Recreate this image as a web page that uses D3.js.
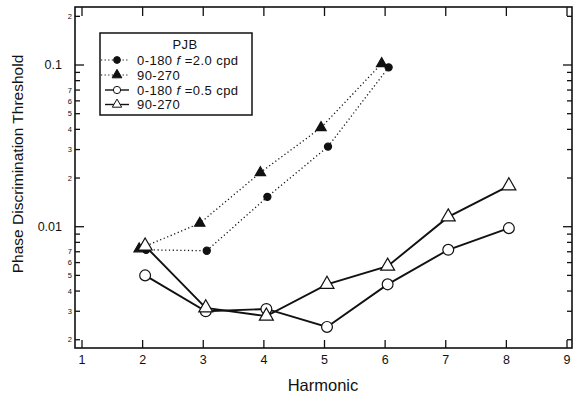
<!DOCTYPE html>
<html>
<head>
<meta charset="utf-8">
<script src="https://cdn.jsdelivr.net/npm/d3@7/dist/d3.min.js"></script>
<style>
  html, body { margin: 0; padding: 0; background: #fff; }
  svg { display: block; font-family: "Liberation Sans", Arial, Helvetica, sans-serif; }
</style>
</head>
<body>
<svg id="chart" width="574" height="398"></svg>
<script>
// Harmonic numbers for each condition
const harmonicsHigh = [2, 3, 4, 5, 6];
const harmonicsLow = [2, 3, 4, 5, 6, 7, 8];

// Phase discrimination thresholds, f = 2.0 cpd
const high0180 = [0.0072, 0.0071, 0.0153, 0.0313, 0.0967];
const high90270 = [0.0073, 0.0105, 0.0216, 0.0410, 0.1020];

// Phase discrimination thresholds, f = 0.5 cpd
const low0180 = [0.0050, 0.0030, 0.0031, 0.0024, 0.0044, 0.0072, 0.0098];
const low90270 = [0.0076, 0.00315, 0.0028, 0.0044, 0.0057, 0.0115, 0.0179];

// Axis ticks
const xTicks = [1, 2, 3, 4, 5, 6, 7, 8, 9];
const yMajorTicks = [0.01, 0.1];
const yMajorLabels = ["0.01", "0.1"];
const yMinorTicks = [0.002, 0.003, 0.004, 0.005, 0.006, 0.007, 0.008, 0.009,
                     0.02, 0.03, 0.04, 0.05, 0.06, 0.07, 0.08, 0.09, 0.2];
const yMinorLabelled = [2, 3, 4, 5, 6, 7];

// Legend text
const legendTitle = "PJB";
const legendRows = [
  { pre: "0-180 ", ital: "f", post: " =2.0 cpd" },
  { pre: "90-270", ital: "", post: "" },
  { pre: "0-180 ", ital: "f", post: " =0.5 cpd" },
  { pre: "90-270", ital: "", post: "" }
];

const svg = d3.select("#chart");
const frame = { left: 75, right: 572, top: 7, bottom: 348 };

const x = d3.scaleLinear().domain([0.8845, 9.0825]).range([frame.left, frame.right]);
const y = d3.scaleLog().domain([0.001778, 0.2284]).range([frame.bottom, frame.top]);

const ink = "#111";

// plot frame
svg.append("rect")
  .attr("x", frame.left).attr("y", frame.top)
  .attr("width", frame.right - frame.left).attr("height", frame.bottom - frame.top)
  .attr("fill", "none").attr("stroke", ink).attr("stroke-width", 1.6);

// x ticks on bottom (pointing up) and top (pointing down)
const gx = svg.append("g");
gx.selectAll("line.b").data(xTicks).join("line")
  .attr("x1", d => x(d)).attr("x2", d => x(d))
  .attr("y1", frame.bottom).attr("y2", frame.bottom - 8)
  .attr("stroke", ink).attr("stroke-width", 1.3);
gx.selectAll("line.t").data(xTicks).join("line")
  .attr("x1", d => x(d)).attr("x2", d => x(d))
  .attr("y1", frame.top).attr("y2", frame.top + 9)
  .attr("stroke", ink).attr("stroke-width", 1.3);
gx.selectAll("text").data(xTicks).join("text")
  .attr("x", d => x(d)).attr("y", 364)
  .attr("text-anchor", "middle").attr("font-size", 12.5).attr("fill", ink)
  .text(d => d);

// y ticks, left and right, pointing inward
const gy = svg.append("g");
const tickLen = d => yMajorTicks.includes(d) ? 9 : 5;
const allY = yMajorTicks.concat(yMinorTicks);
gy.selectAll("line.l").data(allY).join("line")
  .attr("x1", frame.left).attr("x2", d => frame.left + tickLen(d))
  .attr("y1", d => y(d)).attr("y2", d => y(d))
  .attr("stroke", ink).attr("stroke-width", 1.3);
gy.selectAll("line.r").data(allY).join("line")
  .attr("x1", frame.right).attr("x2", d => frame.right - tickLen(d))
  .attr("y1", d => y(d)).attr("y2", d => y(d))
  .attr("stroke", ink).attr("stroke-width", 1.3);
gy.selectAll("text.maj").data(yMajorTicks).join("text")
  .attr("x", 62).attr("y", d => y(d)).attr("dy", "0.35em")
  .attr("text-anchor", "end").attr("font-size", 12.5).attr("fill", ink)
  .text((d, i) => yMajorLabels[i]);
const mantissa = v => Math.round(v / Math.pow(10, Math.floor(Math.log10(v) + 1e-9)));
const minorLabelled = yMinorTicks.filter(v => yMinorLabelled.includes(mantissa(v)));
gy.selectAll("text.min").data(minorLabelled).join("text")
  .attr("x", 72).attr("y", d => y(d)).attr("dy", "0.35em")
  .attr("text-anchor", "end").attr("font-size", 7.5).attr("fill", ink)
  .text(d => mantissa(d));

// axis titles
svg.append("text")
  .attr("x", 323).attr("y", 391)
  .attr("text-anchor", "middle").attr("font-size", 16.5).attr("fill", ink)
  .text("Harmonic");
svg.append("text")
  .attr("transform", "translate(23,164) rotate(-90)")
  .attr("text-anchor", "middle").attr("font-size", 15.5).attr("fill", ink)
  .text("Phase Discrimination Threshold");

// series definitions (dx nudges overlapping markers apart)
const series = [
  { xs: harmonicsHigh, ys: high0180, shape: d3.symbolCircle, size: 40, fill: ink, dotted: true, dx: 3.5 },
  { xs: harmonicsHigh, ys: high90270, shape: d3.symbolTriangle, size: 46, fill: ink, dotted: true, dx: -3.5 },
  { xs: harmonicsLow, ys: low0180, shape: d3.symbolCircle, size: 92, fill: "#fff", dotted: false, dx: 2.5 },
  { xs: harmonicsLow, ys: low90270, shape: d3.symbolTriangle, size: 84, fill: "#fff", dotted: false, dx: 2.5 }
];

const line = d3.line();
series.forEach(s => {
  const pts = s.xs.map((h, i) => [x(h) + s.dx, y(s.ys[i])]);
  svg.append("path")
    .attr("d", line(pts))
    .attr("fill", "none").attr("stroke", ink)
    .attr("stroke-width", s.dotted ? 1.3 : 1.9)
    .attr("stroke-dasharray", s.dotted ? "1.2,2.6" : null);
  svg.append("g").selectAll("path").data(pts).join("path")
    .attr("transform", d => `translate(${d[0]},${d[1]})`)
    .attr("d", d3.symbol().type(s.shape).size(s.size))
    .attr("fill", s.fill).attr("stroke", ink).attr("stroke-width", 1.2);
});

// legend
const lg = svg.append("g");
lg.append("rect").attr("x", 100).attr("y", 33).attr("width", 152).attr("height", 82)
  .attr("fill", "#fff").attr("stroke", ink).attr("stroke-width", 1.5);
lg.append("text").attr("x", 185).attr("y", 48.5).attr("text-anchor", "middle")
  .attr("font-size", 13).attr("letter-spacing", 0.4).attr("fill", ink).text(legendTitle);
const rowY = [60, 75, 90, 104.5];
legendRows.forEach((r, i) => {
  const s = series[i];
  const cy = rowY[i];
  lg.append("line").attr("x1", s.dotted ? 101 : 105).attr("x2", 129)
    .attr("y1", cy).attr("y2", cy)
    .attr("stroke", ink).attr("stroke-width", s.dotted ? 1.2 : 1.4)
    .attr("stroke-dasharray", s.dotted ? "1.2,2.4" : null);
  lg.append("path")
    .attr("transform", `translate(117,${cy})`)
    .attr("d", d3.symbol().type(s.shape).size(s.dotted ? s.size * 0.9 : s.size * 0.45))
    .attr("fill", s.fill).attr("stroke", ink).attr("stroke-width", 1);
  const t = lg.append("text").attr("x", 137).attr("y", cy + 4.5)
    .attr("font-size", 13).attr("letter-spacing", 0.45).attr("fill", ink);
  t.append("tspan").text(r.pre);
  if (r.ital) {
    t.append("tspan").attr("font-style", "italic").text(r.ital);
    t.append("tspan").text(r.post);
  }
});
</script>
</body>
</html>
